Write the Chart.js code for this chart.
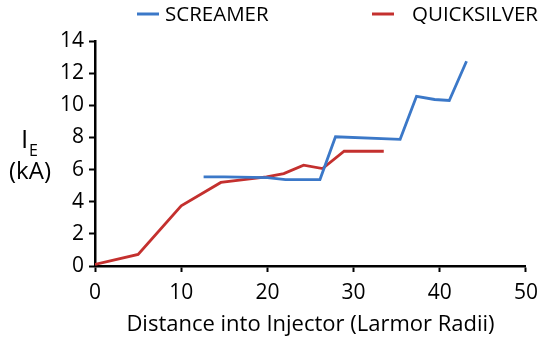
<!DOCTYPE html>
<html>
<head>
<meta charset="utf-8">
<script src="https://cdn.jsdelivr.net/npm/chart.js@4/dist/chart.umd.min.js"></script>
<style>
  html, body { margin: 0; padding: 0; background: #fff; }
  #wrap { width: 546px; height: 341px; position: relative; }
</style>
</head>
<body>
<div id="wrap"><canvas id="chart"></canvas></div>
<script>
// SCREAMER (blue)
const screamerX = [12.6, 15, 20, 22.1, 26.1, 27.9, 35.4, 37.3, 39.4, 41.1, 43.1];
const screamerY = [5.55, 5.55, 5.5, 5.38, 5.38, 8.04, 7.88, 10.56, 10.36, 10.3, 12.74];
// QUICKSILVER (red)
const quickX = [0, 5, 10, 14.6, 19.9, 21.9, 24.2, 26.4, 28.9, 33.5];
const quickY = [0.1, 0.72, 3.74, 5.2, 5.55, 5.75, 6.27, 6.06, 7.14, 7.14];

const xTicks = [0, 10, 20, 30, 40, 50];
const yTicks = [0, 2, 4, 6, 8, 10, 12, 14];

const FONT = "'Open Sans', sans-serif";

function pts(xs, ys) {
  return xs.map((x, i) => ({ x: x, y: ys[i] }));
}

// legend + y title drawn on the canvas
const extras = {
  id: "extras",
  afterDraw(chart) {
    const ctx = chart.ctx;
    ctx.save();
    ctx.fillStyle = "#000";
    ctx.textBaseline = "middle";
    ctx.font = "20.5px " + FONT;

    // legend
    const items = [
      { ds: 0, lx: 137, tx: 165 },
      { ds: 1, lx: 372, tx: 412 },
    ];
    items.forEach((it) => {
      const ds = chart.data.datasets[it.ds];
      ctx.strokeStyle = ds.borderColor;
      ctx.lineWidth = 3;
      ctx.beginPath();
      ctx.moveTo(it.lx, 14);
      ctx.lineTo(it.lx + 22, 14);
      ctx.stroke();
      ctx.textAlign = "left";
      ctx.fillText(ds.label, it.tx, 15);
    });

    // y axis title
    ctx.textAlign = "left";
    ctx.font = "26px " + FONT;
    ctx.fillText("I", 21, 141);
    ctx.font = "16px " + FONT;
    ctx.fillText("E", 29, 151);
    ctx.font = "24px " + FONT;
    ctx.textAlign = "center";
    ctx.fillText("(kA)", 30, 172);
    ctx.restore();
  },
};

new Chart(document.getElementById("chart"), {
  type: "line",
  data: {
    datasets: [
      {
        label: "SCREAMER",
        data: pts(screamerX, screamerY),
        borderColor: "#3b78c8",
        borderWidth: 2.8,
        pointRadius: 0,
        tension: 0,
      },
      {
        label: "QUICKSILVER",
        data: pts(quickX, quickY),
        borderColor: "#c4302e",
        borderWidth: 2.8,
        pointRadius: 0,
        tension: 0,
      },
    ],
  },
  options: {
    responsive: true,
    maintainAspectRatio: false,
    animation: false,
    layout: { padding: { top: 41, right: 19, left: 0, bottom: 0 } },
    plugins: {
      legend: { display: false },
      tooltip: { enabled: false },
    },
    scales: {
      x: {
        type: "linear",
        min: 0,
        max: 50,
        afterBuildTicks: (s) => { s.ticks = xTicks.map((v) => ({ value: v })); },
        afterFit: (s) => { s.height = 75; },
        border: { display: true, color: "#000", width: 2.5 },
        grid: { drawOnChartArea: false, color: "#000", tickLength: 6, tickWidth: 2 },
        ticks: { color: "#000", font: { family: FONT, size: 21 }, padding: 8, maxRotation: 0 },
        title: {
          display: true,
          text: "Distance into Injector (Larmor Radii)",
          color: "#000",
          font: { family: FONT, size: 22 },
          padding: { top: 0, bottom: 3 },
        },
      },
      y: {
        type: "linear",
        min: 0,
        max: 14,
        afterBuildTicks: (s) => { s.ticks = yTicks.map((v) => ({ value: v })); },
        afterFit: (s) => { s.width = 95; },
        border: { display: true, color: "#000", width: 2.5 },
        grid: { drawOnChartArea: false, color: "#000", tickLength: 6, tickWidth: 2 },
        ticks: { color: "#000", font: { family: FONT, size: 21 }, padding: 5 },
      },
    },
  },
  plugins: [extras],
});
</script>
</body>
</html>
